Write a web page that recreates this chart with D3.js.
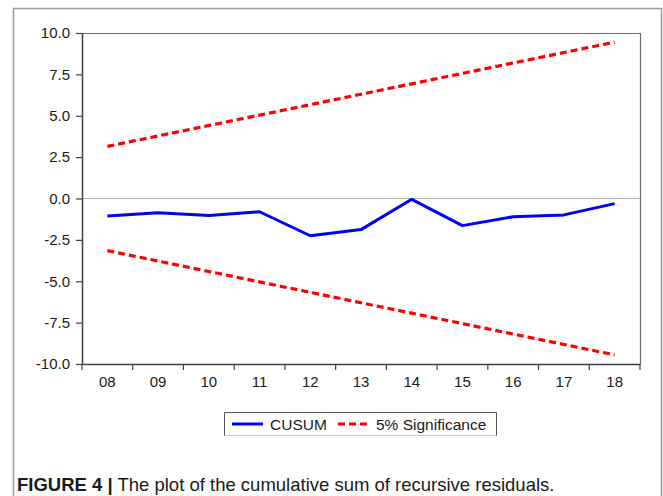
<!DOCTYPE html>
<html>
<head>
<meta charset="utf-8">
<script src="https://cdn.jsdelivr.net/npm/d3@7"></script>
<style>
  html, body { margin: 0; padding: 0; background: #fff; }
  svg { display: block; }
  text { font-family: "Liberation Sans", Arial, sans-serif; }
</style>
</head>
<body>
<svg id="chart" width="663" height="496"></svg>
<script>
// Observation years (two-digit labels on the time axis)
const years = ["08", "09", "10", "11", "12", "13", "14", "15", "16", "17", "18"];
// Cumulative sum of recursive residuals
const cusum = [-1.06, -0.86, -1.03, -0.80, -2.25, -1.88, -0.05, -1.64, -1.10, -0.99, -0.31];
// 5% significance bounds
const upperBound = [3.15, 3.78, 4.41, 5.04, 5.67, 6.30, 6.93, 7.56, 8.19, 8.82, 9.45];
const lowerBound = [-3.15, -3.78, -4.41, -5.04, -5.67, -6.30, -6.93, -7.56, -8.19, -8.82, -9.45];
// Vertical axis ticks
const yTicks = [-10, -7.5, -5, -2.5, 0, 2.5, 5, 7.5, 10];
const legendLabels = ["CUSUM", "5% Significance"];
const captionBold = "FIGURE 4 |";
const captionText = " The plot of the cumulative sum of recursive residuals.";

const svg = d3.select("#chart");
const W = 663, H = 496;
const plot = { left: 82, top: 33, right: 640, bottom: 364 };
const ink = "#1a1a1a";

// Outer figure frame
svg.append("path")
  .attr("d", `M13.5,${H + 2} V8.5 H661.5 V${H + 2}`)
  .attr("fill", "none").attr("stroke", "#9a9a9a").attr("stroke-width", 1.5);

const x = d3.scaleBand().domain(years).range([plot.left, plot.right]).padding(0);
const y = d3.scaleLinear().domain([-10, 10]).range([plot.bottom, plot.top]);
const xc = d => x(d) + x.bandwidth() / 2;

// Plot box: top and right edges
svg.append("path")
  .attr("d", `M${plot.left},${plot.top + 0.5} H${plot.right + 0.5} V${plot.bottom}`)
  .attr("fill", "none").attr("stroke", "#6a6a6a").attr("stroke-width", 1.2);

// Zero reference line
svg.append("line")
  .attr("x1", plot.left).attr("x2", plot.right)
  .attr("y1", y(0)).attr("y2", y(0))
  .attr("stroke", "#b4b4b4").attr("stroke-width", 1);

// Y axis (plain hyphen for negatives)
const fmt = d => d.toFixed(1);
const yAxis = svg.append("g")
  .attr("transform", `translate(${plot.left},0)`)
  .call(d3.axisLeft(y).tickValues(yTicks).tickFormat(fmt)
    .tickSize(6).tickPadding(6).tickSizeOuter(0));
yAxis.attr("font-size", null).attr("font-family", null);
yAxis.select(".domain").attr("stroke", "#404040").attr("stroke-width", 1.5);
yAxis.selectAll(".tick line").attr("stroke", "#404040").attr("stroke-width", 1.2);
yAxis.selectAll("text").style("font-size", "15px").attr("fill", ink);

// X axis: labels centred in each period, ticks on period boundaries
const xAxis = svg.append("g")
  .attr("transform", `translate(0,${plot.bottom})`)
  .call(d3.axisBottom(x).tickSize(0).tickPadding(12.5).tickSizeOuter(0));
xAxis.attr("font-size", null).attr("font-family", null);
xAxis.select(".domain").attr("stroke", "#404040").attr("stroke-width", 1.5);
xAxis.selectAll("text").style("font-size", "15px").attr("fill", ink);
const bounds = years.map(d => x(d)).concat([plot.right]);
xAxis.selectAll("line.bound").data(bounds).join("line")
  .attr("class", "bound")
  .attr("x1", d => d).attr("x2", d => d)
  .attr("y1", 0).attr("y2", 6)
  .attr("stroke", "#404040").attr("stroke-width", 1.2);

// Series lines
const line = d3.line().x((d, i) => xc(years[i])).y(d => y(d));
const red = "#ff0000", blue = "#0000ff";

[upperBound, lowerBound].forEach(s => {
  svg.append("path").datum(s)
    .attr("d", line)
    .attr("fill", "none").attr("stroke", red).attr("stroke-width", 3.2)
    .attr("stroke-dasharray", "7,4");
});

svg.append("path").datum(cusum)
  .attr("d", line)
  .attr("fill", "none").attr("stroke", blue).attr("stroke-width", 3)
  .attr("stroke-linejoin", "round");

// Legend
const lg = svg.append("g");
lg.append("path")
  .attr("d", "M224.5,436 V412.5 H496.5 V436")
  .attr("fill", "none").attr("stroke", "#555").attr("stroke-width", 1);
lg.append("line").attr("x1", 224.5).attr("x2", 496.5).attr("y1", 435.5).attr("y2", 435.5)
  .attr("stroke", "#c8c8c8").attr("stroke-width", 1);
lg.append("line").attr("x1", 232).attr("x2", 263).attr("y1", 424).attr("y2", 424)
  .attr("stroke", blue).attr("stroke-width", 3);
lg.append("text").attr("x", 270).attr("y", 429.5).style("font-size", "15.5px")
  .attr("fill", ink).text(legendLabels[0]);
lg.append("line").attr("x1", 338).attr("x2", 371).attr("y1", 424).attr("y2", 424)
  .attr("stroke", red).attr("stroke-width", 3).attr("stroke-dasharray", "7,4");
lg.append("text").attr("x", 376).attr("y", 429.5).style("font-size", "15.5px")
  .attr("fill", ink).text(legendLabels[1]);

// Caption
const cap = svg.append("text").attr("x", 17).attr("y", 491)
  .style("font-size", "18.5px").attr("fill", ink);
cap.append("tspan").attr("font-weight", "bold").text(captionBold);
cap.append("tspan").text(captionText);
</script>
</body>
</html>
